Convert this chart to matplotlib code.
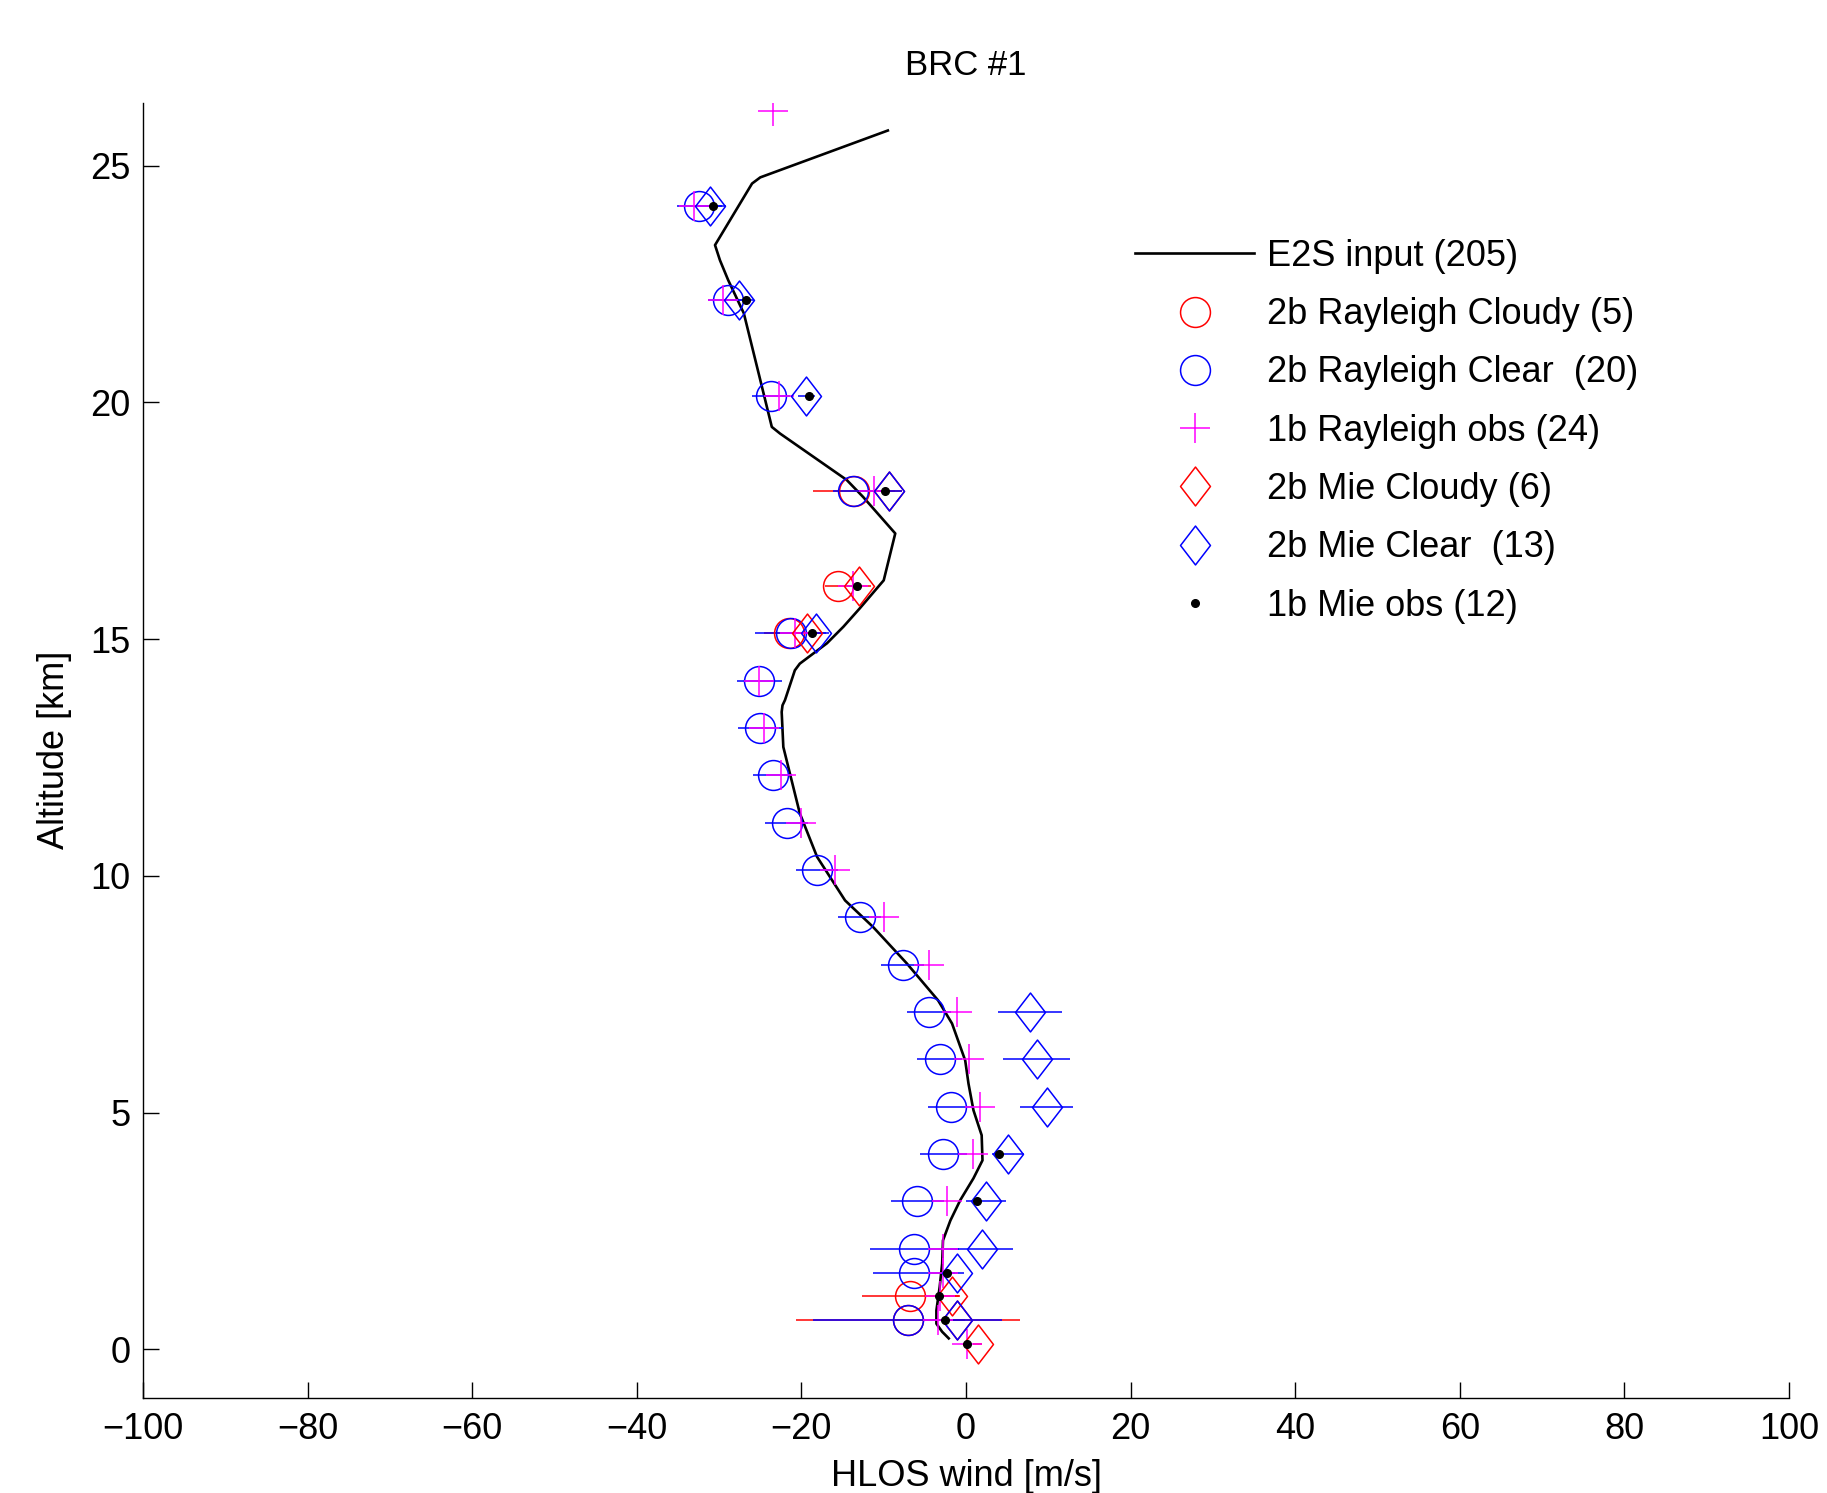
import numpy as np
import matplotlib
matplotlib.use("Agg")
import matplotlib.pyplot as plt
from matplotlib.path import Path

plt.rcParams['font.family'] = ['Liberation Sans', 'DejaVu Sans']
plt.rcParams['font.size'] = 26

# E2S input profile (wind [m/s], altitude [km])
e2s_wind = [-9.5, -25.0, -26.0, -30.5, -29.9, -28.9, -27.0, -25.0, -23.6, -22.6,
            -14.5, -12.5, -8.6, -10.0, -12.9, -14.9, -16.9, -20.2, -20.8, -21.2,
            -22.0, -22.3, -22.4, -22.2, -20.2, -18.1, -14.7, -11.3, -7.2, -3.4,
            -1.7, -0.1, 0.3, 0.9, 1.9, 2.0, 0.9, -0.7, -1.9, -2.8,
            -2.9, -3.2, -3.6, -3.6, -2.9, -2.1]
e2s_alt = [25.74, 24.75, 24.62, 23.32, 23.0, 22.58, 21.88, 20.47, 19.48, 19.34,
           18.36, 18.0, 17.23, 16.24, 15.65, 15.26, 14.91, 14.48, 14.34, 14.13,
           13.71, 13.6, 13.46, 12.72, 11.32, 10.4, 9.48, 8.92, 8.15, 7.37,
           6.88, 6.10, 5.61, 5.05, 4.52, 3.99, 3.61, 3.15, 2.72, 2.30,
           1.81, 1.32, 0.82, 0.54, 0.37, 0.23]

# 2b Rayleigh cloudy
rc_alt = [18.13, 16.12, 15.12, 1.12, 0.62]
rc_wind = [-13.6, -15.6, -21.5, -6.8, -7.0]
rc_err = [5.0, 1.5, 3.0, 5.9, 13.6]

# 2b Rayleigh clear
rr_alt = [24.15, 22.15, 20.13, 18.13, 15.12, 14.12, 13.12, 12.12, 11.12, 10.12,
          9.12, 8.12, 7.12, 6.12, 5.12, 4.12, 3.13, 2.12, 1.62, 0.62]
rr_wind = [-32.4, -28.9, -23.7, -13.7, -21.3, -25.1, -25.0, -23.5, -21.8, -18.1,
           -12.9, -7.7, -4.5, -3.2, -1.8, -2.75, -5.9, -6.3, -6.3, -7.1]
rr_err = [2.7, 2.4, 2.3, 2.5, 4.3, 2.7, 2.7, 2.4, 2.6, 2.6,
          2.6, 2.6, 2.7, 2.7, 2.8, 2.9, 3.2, 5.4, 5.0, 11.5]

# 1b Rayleigh obs
r1_alt = [26.15, 24.15, 22.15, 20.13, 18.13, 16.12, 15.12, 14.12, 13.12, 12.12,
          11.12, 10.12, 9.12, 8.12, 7.12, 6.12, 5.12, 4.12, 3.13, 2.12,
          1.62, 1.12, 0.62, 0.12]
r1_wind = [-23.4, -33.0, -29.5, -22.7, -11.2, -13.7, -20.8, -25.1, -24.5, -22.5,
           -20.1, -15.9, -10.0, -4.5, -1.1, 0.4, 1.7, 0.8, -2.3, -2.8,
           -2.8, -3.2, -3.4, 0.1]

# 2b Mie cloudy
mc_alt = [18.13, 16.12, 15.12, 1.12, 0.62, 0.12]
mc_wind = [-9.3, -13.0, -19.3, -1.7, -1.1, 1.4]
mc_err = [1.5, 1.5, 1.5, 1.0, 1.0, 0.5]

# 2b Mie clear
mr_alt = [24.15, 22.15, 20.13, 18.13, 15.12, 7.12, 6.12, 5.12, 4.12, 3.13,
          2.12, 1.62, 0.62]
mr_wind = [-31.1, -27.6, -19.4, -9.3, -18.2, 7.8, 8.6, 9.8, 5.1, 2.4,
           1.9, -1.1, -1.1]
mr_err = [1.9, 1.8, 1.0, 1.5, 1.5, 3.9, 4.05, 3.2, 2.0, 2.4,
          3.8, 0.8, 1.0]

# 1b Mie obs
m1_alt = [24.15, 22.15, 20.13, 18.13, 16.12, 15.12, 4.12, 3.13, 1.62, 1.12, 0.62, 0.12]
m1_wind = [-30.8, -26.7, -19.1, -9.9, -13.2, -18.7, 4.0, 1.3, -2.35, -3.3, -2.55, 0.1]

labels = ['E2S input (205)', '2b Rayleigh Cloudy (5)', '2b Rayleigh Clear  (20)',
          '1b Rayleigh obs (24)', '2b Mie Cloudy (6)', '2b Mie Clear  (13)',
          '1b Mie obs (12)']

# MATLAB-like diamond (taller than wide)
diamond = Path([(0, 0.5), (0.385, 0), (0, -0.5), (-0.385, 0), (0, 0.5)],
               [Path.MOVETO, Path.LINETO, Path.LINETO, Path.LINETO, Path.CLOSEPOLY])

RED, BLUE, MAG = '#ff0000', '#0000ff', '#ff00ff'
lw = 1.1

fig = plt.figure(figsize=(18.27, 14.93), dpi=100)
ax = fig.add_axes([0.0783, 0.0636, 0.9009, 0.8677])

h_line, = ax.plot(e2s_wind, e2s_alt, color='k', lw=1.9, label=labels[0])

ax.errorbar(rc_wind, rc_alt, xerr=rc_err, fmt='none', ecolor=RED, elinewidth=lw, capsize=0)
ax.errorbar(rr_wind, rr_alt, xerr=rr_err, fmt='none', ecolor=BLUE, elinewidth=lw, capsize=0)
ax.errorbar(mc_wind, mc_alt, xerr=mc_err, fmt='none', ecolor=RED, elinewidth=lw, capsize=0)
ax.errorbar(mr_wind, mr_alt, xerr=mr_err, fmt='none', ecolor=BLUE, elinewidth=lw, capsize=0)

h1, = ax.plot(rc_wind, rc_alt, 'o', ms=21.5, mfc='none', mec=RED, mew=lw, label=labels[1])
h2, = ax.plot(rr_wind, rr_alt, 'o', ms=21.5, mfc='none', mec=BLUE, mew=lw, label=labels[2])
h3, = ax.plot(r1_wind, r1_alt, '+', ms=21, mec=MAG, mew=lw, label=labels[3])
h4, = ax.plot(mc_wind, mc_alt, ls='none', marker=diamond, ms=28, mfc='none', mec=RED, mew=lw, label=labels[4])
h5, = ax.plot(mr_wind, mr_alt, ls='none', marker=diamond, ms=28, mfc='none', mec=BLUE, mew=lw, label=labels[5])
h6, = ax.plot(m1_wind, m1_alt, '.', ms=11, color='k', label=labels[6])

ax.set_xlim(-100, 100)
ax.set_ylim(-1.03, 26.33)
ax.set_xticks(np.arange(-100, 101, 20))
ax.set_yticks(np.arange(0, 26, 5))
for s in ['top', 'right']:
    ax.spines[s].set_visible(False)
for s in ['left', 'bottom']:
    ax.spines[s].set_linewidth(1.0)
ax.tick_params(axis='both', direction='in', length=11.5, width=1.0)
ax.tick_params(axis='x', pad=10)
ax.tick_params(axis='y', pad=9)

ax.set_title('BRC #1', pad=20, fontsize=25)
ax.set_xlabel('HLOS wind [m/s]', labelpad=9)
ax.set_ylabel('Altitude [km]', labelpad=13)

fig.legend(handles=[h_line, h1, h2, h3, h4, h5, h6], loc='upper left',
           bbox_to_anchor=(0.6212, 0.840), frameon=False, numpoints=1,
           handlelength=3.3, handletextpad=0.37, labelspacing=0.645,
           borderpad=0, borderaxespad=0)

fig.savefig('out.png', dpi=100)
